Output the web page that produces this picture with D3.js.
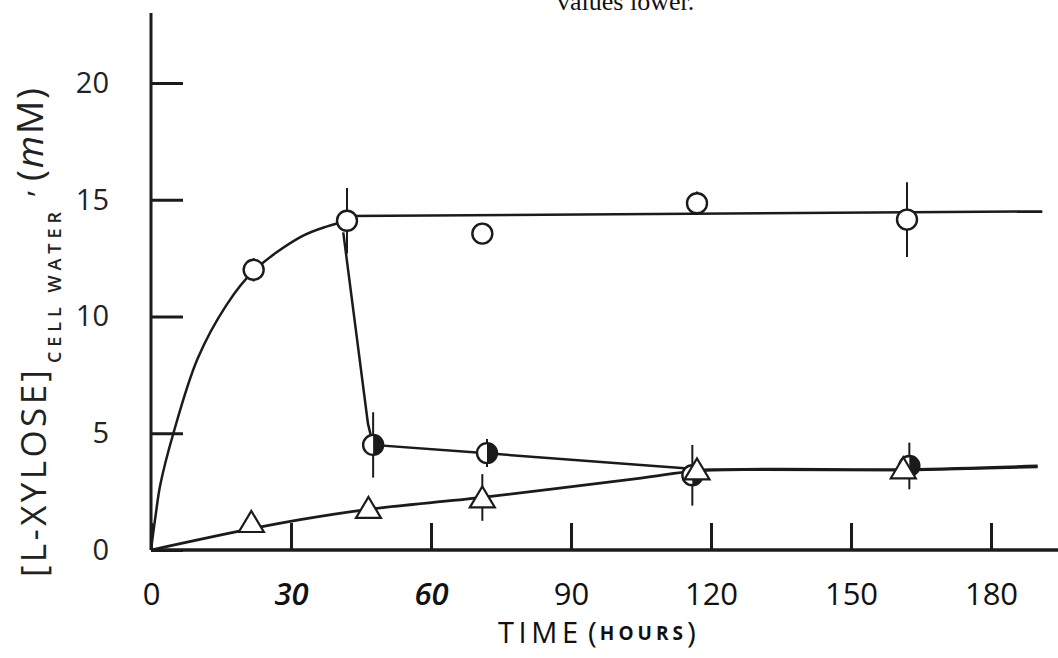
<!DOCTYPE html>
<html>
<head>
<meta charset="utf-8">
<script src="https://cdn.jsdelivr.net/npm/d3@7"></script>
<style>
  html, body { margin: 0; padding: 0; background: #ffffff; }
  svg { display: block; }
</style>
</head>
<body>
<svg id="chart" width="1058" height="658"></svg>
<script>
// ---------------- data ----------------
const xTicks = [0, 30, 60, 90, 120, 150, 180];
const xTickLabels = ["0", "30", "60", "90", "120", "150", "180"];
const yTicks = [0, 5, 10, 15, 20];
const yTickLabels = ["0", "5", "10", "15", "20"];

// open circles
const openTime = [22, 42, 71, 117, 162];
const openValue = [12.0, 14.1, 13.55, 14.85, 14.15];
const openErr = [0.5, 1.4, 0, 0.5, 1.6];

// half-filled circles
const halfTime = [47.6, 72, 116, 162.5];
const halfValue = [4.5, 4.15, 3.2, 3.6];
const halfErr = [1.4, 0.6, 1.3, 1.0];

// open triangles
const triTime = [21.5, 46.6, 71, 117, 161.2];
const triValue = [1.2, 1.8, 2.25, 3.45, 3.5];
const triErr = [0, 0, 1.0, 0, 0];

// drawn curves
const openCurveTime = [0, 1, 2, 4.8, 10, 16.2, 22, 32, 37.6, 42.5];
const openCurveValue = [0, 1.5, 2.8, 5.0, 8.2, 10.5, 11.95, 13.4, 13.85, 14.1];
const openFlatTime = [42.5, 191];
const openFlatValue = [14.3, 14.5];
const halfLineTime = [41.2, 46.5, 47.6, 72, 105, 118, 162, 190];
const halfLineValue = [13.6, 5.4, 4.5, 4.14, 3.64, 3.45, 3.42, 3.55];
const triLineTime = [0, 20, 32, 47, 71, 105, 118, 162, 190];
const triLineValue = [0, 0.85, 1.3, 1.75, 2.25, 3.08, 3.4, 3.45, 3.6];

const xAxisEnd = 194.5;
const yAxisEnd = 23.0;

// ---------------- drawing ----------------
const svg = d3.select("#chart");
const ink = "#1b1b1b";
const font = "'Open Sans', 'DejaVu Sans', sans-serif";

const x = d3.scaleLinear().domain([0, 180]).range([151, 991]);
const y = d3.scaleLinear().domain([0, 20]).range([550, 83]);

// header fragment (cut at the top edge, as in the source)
svg.append("text")
  .attr("x", 557).attr("y", 10)
  .attr("font-family", "'Liberation Serif', 'Times New Roman', serif")
  .attr("font-size", 26)
  .attr("fill", "#111")
  .text("values lower.");

// axes
const xAxis = d3.axisBottom(x)
  .tickValues(xTicks)
  .tickSize(-27)
  .tickPadding(33)
  .tickFormat((d, i) => xTickLabels[i]);
const gx = svg.append("g").attr("transform", `translate(0,${y(0)})`).call(xAxis);
gx.select(".domain").remove();
gx.selectAll(".tick line").attr("stroke", ink).attr("stroke-width", 3);
gx.selectAll(".tick text")
  .attr("font-family", font)
  .attr("font-size", 31)
  .attr("fill", "#111")
  .attr("font-style", (d) => (d === 30 || d === 60) ? "italic" : "normal")
  .attr("font-weight", (d) => (d === 30 || d === 60) ? 600 : "normal");

const yAxis = d3.axisLeft(y)
  .tickValues(yTicks)
  .tickSize(-32)
  .tickPadding(42)
  .tickFormat((d, i) => yTickLabels[i]);
const gy = svg.append("g").attr("transform", `translate(${x(0)},0)`).call(yAxis);
gy.select(".domain").remove();
gy.selectAll(".tick line").attr("stroke", ink).attr("stroke-width", 3);
gy.selectAll(".tick text")
  .attr("font-family", font)
  .attr("font-size", 29)
  .attr("fill", "#222");

svg.append("line")
  .attr("x1", x(0)).attr("x2", x(xAxisEnd))
  .attr("y1", y(0)).attr("y2", y(0))
  .attr("stroke", ink).attr("stroke-width", 3.5);
svg.append("line")
  .attr("x1", x(0)).attr("x2", x(0))
  .attr("y1", y(0)).attr("y2", y(yAxisEnd))
  .attr("stroke", ink).attr("stroke-width", 3);

// axis titles
svg.append("text")
  .attr("x", 498).attr("y", 643)
  .attr("font-family", font).attr("font-size", 29)
  .attr("fill", "#111")
  .attr("textLength", 80).attr("lengthAdjust", "spacing")
  .text("TIME");
const xt = svg.append("text")
  .attr("x", 588).attr("y", 643)
  .attr("font-family", font)
  .attr("fill", "#111");
xt.append("tspan").attr("font-size", 30).text("(");
xt.append("tspan").attr("font-size", 19).attr("font-weight", "bold")
  .attr("letter-spacing", 4).attr("dx", 3).attr("dy", -3).text("HOURS");
xt.append("tspan").attr("font-size", 30).attr("dy", 3).text(")");

svg.append("text")
  .attr("transform", "translate(46,577) rotate(-90)")
  .attr("font-family", font).attr("font-size", 35)
  .attr("fill", "#222")
  .attr("textLength", 207).attr("lengthAdjust", "spacing")
  .text("[L-XYLOSE]");
svg.append("text")
  .attr("transform", "translate(61,363) rotate(-90)")
  .attr("font-family", font).attr("font-size", 18).attr("font-weight", 600)
  .attr("fill", "#222")
  .attr("textLength", 151).attr("lengthAdjust", "spacing")
  .text("CELL WATER");
svg.append("text")
  .attr("transform", "translate(31,197) rotate(-90)")
  .attr("font-family", font).attr("font-size", 30)
  .attr("fill", "#222")
  .text(",");
const mm = svg.append("text")
  .attr("transform", "translate(43,181) rotate(-90)")
  .attr("font-family", font).attr("font-size", 37)
  .attr("fill", "#222")
  .attr("textLength", 93).attr("lengthAdjust", "spacing");
mm.append("tspan").text("(");
mm.append("tspan").attr("font-style", "italic").text("m");
mm.append("tspan").text("M)");

// lines
const line = d3.line().x(d => x(d[0])).y(d => y(d[1]));
const smooth = d3.line().x(d => x(d[0])).y(d => y(d[1])).curve(d3.curveCatmullRom.alpha(0.5));
const zip = (a, b) => a.map((t, i) => [t, b[i]]);

svg.append("path").attr("d", smooth(zip(openCurveTime, openCurveValue)))
  .attr("fill", "none").attr("stroke", ink).attr("stroke-width", 2.5);
svg.append("path").attr("d", line(zip(openFlatTime, openFlatValue)))
  .attr("fill", "none").attr("stroke", ink).attr("stroke-width", 2.5);
svg.append("path").attr("d", line(zip(halfLineTime, halfLineValue)))
  .attr("fill", "none").attr("stroke", ink).attr("stroke-width", 2.5);
svg.append("path").attr("d", smooth(zip(triLineTime, triLineValue)))
  .attr("fill", "none").attr("stroke", ink).attr("stroke-width", 2.8);

// error bars
function errBars(times, vals, errs) {
  svg.append("g").selectAll("line")
    .data(times.map((t, i) => ({ t, v: vals[i], e: errs[i] })).filter(d => d.e > 0))
    .join("line")
    .attr("x1", d => x(d.t)).attr("x2", d => x(d.t))
    .attr("y1", d => y(d.v + d.e)).attr("y2", d => y(d.v - d.e))
    .attr("stroke", ink).attr("stroke-width", 2);
}
errBars(openTime, openValue, openErr);
errBars(halfTime, halfValue, halfErr);
errBars(triTime, triValue, triErr);

// markers
const r = 10;
svg.append("g").selectAll("circle")
  .data(zip(openTime, openValue))
  .join("circle")
  .attr("cx", d => x(d[0])).attr("cy", d => y(d[1])).attr("r", r)
  .attr("fill", "#fff").attr("stroke", ink).attr("stroke-width", 2.4);

const halfArc = d3.arc().innerRadius(0).outerRadius(r).startAngle(0).endAngle(Math.PI);
const hg = svg.append("g").selectAll("g")
  .data(zip(halfTime, halfValue))
  .join("g")
  .attr("transform", d => `translate(${x(d[0])},${y(d[1])})`);
hg.append("circle").attr("r", r).attr("fill", "#fff").attr("stroke", ink).attr("stroke-width", 2.4);
hg.append("path").attr("d", halfArc()).attr("fill", ink);

const triPath = "M0,-11L12.5,10L-12.5,10Z";
svg.append("g").selectAll("path")
  .data(zip(triTime, triValue))
  .join("path")
  .attr("transform", d => `translate(${x(d[0])},${y(d[1])})`)
  .attr("d", triPath)
  .attr("fill", "#fff").attr("stroke", ink).attr("stroke-width", 2.2)
  .attr("stroke-linejoin", "miter");
</script>
</body>
</html>
